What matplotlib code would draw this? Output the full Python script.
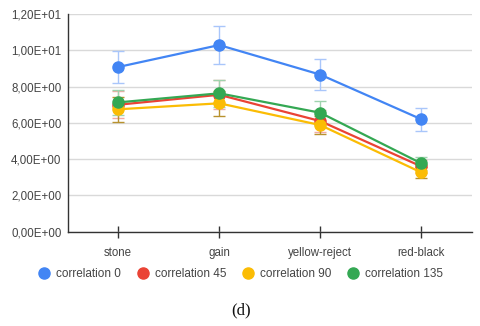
import matplotlib
matplotlib.use('Agg')
import matplotlib.pyplot as plt
from matplotlib.lines import Line2D
from matplotlib.ticker import FuncFormatter, MultipleLocator

categories = ['stone', 'gain', 'yellow-reject', 'red-black']
series_names = ['correlation 0', 'correlation 45', 'correlation 90', 'correlation 135']

corr_0 = [9.08, 10.29, 8.66, 6.20]
corr_45 = [7.00, 7.55, 6.10, 3.60]
corr_90 = [6.75, 7.08, 5.88, 3.27]
corr_135 = [7.13, 7.63, 6.56, 3.77]

err_0 = [0.90, 1.03, 0.87, 0.62]
err_45 = [0.75, 0.80, 0.60, 0.35]
err_90 = [0.70, 0.70, 0.50, 0.28]
err_135 = [0.70, 0.75, 0.65, 0.35]

colors = ['#4285F4', '#EA4335', '#FBBC04', '#34A853']
err_colors = ['#a9c6fa', '#f2aaa4', '#b8922e', '#9fd3ae']


def sci_comma(value, pos):
    return ('%.2E' % value).replace('.', ',')


def main():
    fig = plt.figure(figsize=(4.8, 3.26), dpi=100)
    ax = fig.add_axes([0.141, 0.289, 0.842, 0.668])

    x = range(len(categories))
    all_values = [corr_0, corr_45, corr_90, corr_135]
    all_errors = [err_0, err_45, err_90, err_135]
    for values, errors, color, ecolor in zip(all_values, all_errors, colors, err_colors):
        ax.errorbar(x, values, yerr=errors, fmt='none', ecolor=ecolor,
                    elinewidth=1.0, capsize=4, capthick=1.0, zorder=2)
    for values, color in zip(all_values, colors):
        ax.plot(x, values, color=color, linewidth=1.6, marker='o',
                markersize=8, zorder=3)

    ax.set_xlim(-0.5, 3.5)
    ax.set_ylim(0, 12)
    ax.yaxis.set_major_locator(MultipleLocator(2))
    ax.yaxis.set_major_formatter(FuncFormatter(sci_comma))
    ax.set_xticks(list(x))
    ax.set_xticklabels(categories)
    ax.grid(axis='y', color='#d9d9d9', linewidth=1.0)
    ax.set_axisbelow(True)

    for side in ['top', 'right']:
        ax.spines[side].set_visible(False)
    ax.spines['left'].set_color('#333333')
    ax.spines['bottom'].set_color('#333333')
    ax.spines['left'].set_linewidth(1.0)
    ax.spines['bottom'].set_linewidth(1.0)

    ax.tick_params(axis='y', length=0, pad=4.5, labelsize=8.3, labelcolor='#444444')
    ax.tick_params(axis='x', direction='inout', length=8.6, width=1.0,
                   color='#333333', pad=6.5, labelsize=8.3, labelcolor='#444444')
    for label in ax.get_xticklabels() + ax.get_yticklabels():
        label.set_family('Liberation Sans')

    handles = [Line2D([], [], linestyle='none', marker='o', markersize=8,
                      color=c) for c in colors]
    fig.legend(handles, series_names, loc='center', bbox_to_anchor=(0.5, 0.158),
               ncol=4, frameon=False, handletextpad=0.45, columnspacing=1.2,
               prop={'family': 'Liberation Sans', 'size': 8.5},
               labelcolor='#444444', handlelength=1.2)

    fig.text(0.503, 0.048, '(d)', ha='center', va='center',
             family='Liberation Serif', fontsize=12, color='#111111')

    fig.savefig('out.png', dpi=100)


if __name__ == '__main__':
    main()
